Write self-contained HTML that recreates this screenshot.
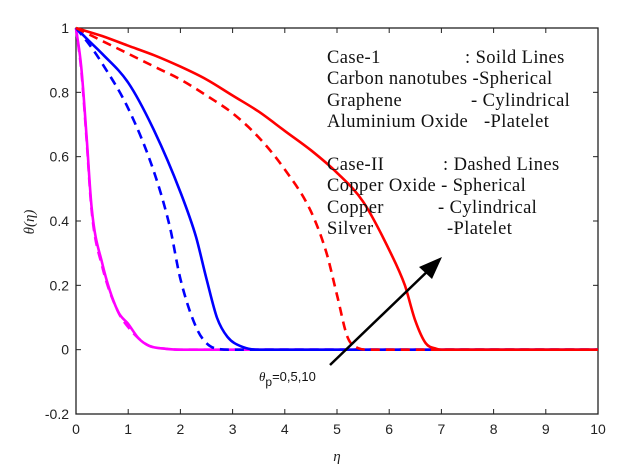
<!DOCTYPE html>
<html><head><meta charset="utf-8"><style>
body{margin:0;background:#fff}
svg{display:block;font-family:"Liberation Sans",sans-serif}
.leg{font-family:"Liberation Serif",serif;font-size:18.5px;letter-spacing:0.4px;fill:#111}
</style></head><body>
<svg id="chart" width="630" height="471" viewBox="0 0 630 471">
<rect width="630" height="471" fill="#fff"/>
<g id="axes"></g>
<g id="series"></g>
<g class="leg">
<text x="327" y="63">Case-1</text><text x="465" y="63">: Soild Lines</text>
<text x="327" y="84">Carbon nanotubes -Spherical</text>
<text x="327" y="106">Graphene</text><text x="471" y="106">- Cylindrical</text>
<text x="327" y="127">Aluminium Oxide</text><text x="484" y="127">-Platelet</text>
<text x="327" y="170">Case-II</text><text x="443" y="170">:  Dashed Lines</text>
<text x="327" y="191">Copper Oxide -  Spherical</text>
<text x="327" y="213">Copper</text><text x="438" y="213">- Cylindrical</text>
<text x="327" y="234">Silver</text><text x="447" y="234">-Platelet</text>
</g>
<g>
<line x1="330" y1="365" x2="433" y2="266" stroke="#000" stroke-width="2.5"/>
<polygon points="442,257 419,267 432,279" fill="#000"/>
</g>
<text x="259" y="381" font-size="13" fill="#111"><tspan font-family="Liberation Serif" font-style="italic">θ</tspan><tspan dy="5" font-size="12">p</tspan><tspan dy="-5">=0,5,10</tspan></text>
<text transform="translate(34,222) rotate(-90)" text-anchor="middle" font-family="Liberation Serif" font-style="italic" font-size="15" fill="#222">θ(η)</text>
<text x="337" y="461" text-anchor="middle" font-family="Liberation Serif" font-style="italic" font-size="15" fill="#222">η</text>
</svg>
<script>
const xTicks=[0,1,2,3,4,5,6,7,8,9,10];
const yTicks=[-0.2,0,0.2,0.4,0.6,0.8,1];
const yTickLabels=["-0.2","0","0.2","0.4","0.6","0.8","1"];
const redSolidX=[0,0.5,1,1.5,2,2.5,3,3.5,4,4.5,5,5.5,6,6.3,6.5,6.7,6.9,7,10];
const redSolidY=[1,0.975,0.945,0.915,0.88,0.84,0.79,0.74,0.68,0.62,0.55,0.46,0.31,0.2,0.09,0.02,0.003,0,0];
const redDashX=[0,0.5,1,1.5,2,2.5,3,3.5,4,4.5,4.8,5,5.2,5.4,5.6,10];
const redDashY=[1,0.96,0.92,0.88,0.84,0.79,0.735,0.66,0.56,0.43,0.3,0.17,0.04,0.005,0,0];
const blueSolidX=[0,0.25,0.5,1,1.5,2,2.3,2.5,2.7,2.9,3.2,3.5,10];
const blueSolidY=[1,0.96,0.92,0.83,0.68,0.49,0.35,0.22,0.1,0.04,0.008,0,0];
const blueDashX=[0,0.25,0.5,1,1.5,1.8,2,2.3,2.5,2.7,3,10];
const blueDashY=[1,0.95,0.89,0.75,0.55,0.38,0.22,0.07,0.02,0.003,0,0];
const magSolidX=[0,0.1,0.2,0.3,0.5,0.8,1,1.2,1.4,1.7,2,10];
const magSolidY=[1,0.88,0.67,0.44,0.27,0.12,0.08,0.035,0.012,0.003,0,0];
const magDashX=[0,0.1,0.2,0.3,0.5,0.8,1,1.2,1.4,1.7,2,10];
const magDashY=[1,0.87,0.66,0.43,0.26,0.12,0.07,0.035,0.012,0.003,0,0];

const X0=76,X1=598,Y0=414,Y1=28,xmin=0,xmax=10,ymin=-0.2,ymax=1;
const sx=v=>X0+(v-xmin)/(xmax-xmin)*(X1-X0);
const sy=v=>Y0-(v-ymin)/(ymax-ymin)*(Y0-Y1);
const NS="http://www.w3.org/2000/svg";
function mk(tag,attrs,parent){const e=document.createElementNS(NS,tag);for(const k in attrs)e.setAttribute(k,attrs[k]);parent.appendChild(e);return e;}
const ax=document.getElementById('axes');
const frame=mk('rect',{x:X0,y:Y1,width:X1-X0,height:Y0-Y1,fill:'none',stroke:'#222','stroke-width':1.3},ax);


xTicks.forEach(t=>{
  const x=sx(t);
  mk('line',{x1:x,y1:Y0,x2:x,y2:Y0-5,stroke:'#222'},ax);
  mk('line',{x1:x,y1:Y1,x2:x,y2:Y1+5,stroke:'#222'},ax);
  const tx=mk('text',{x:x,y:Y0+20,'text-anchor':'middle','font-size':14,fill:'#222'},ax);
  tx.textContent=t;
  
  
});
yTicks.forEach((t,i)=>{
  const y=sy(t);
  mk('line',{x1:X0,y1:y,x2:X0+5,y2:y,stroke:'#222'},ax);
  mk('line',{x1:X1,y1:y,x2:X1-5,y2:y,stroke:'#222'},ax);
  const tx=mk('text',{x:X0-7,y:y+5,'text-anchor':'end','font-size':14,fill:'#222'},ax);
  tx.textContent=yTickLabels[i];
  
  
});
const sg=document.getElementById('series');
// monotone cubic (Fritsch-Carlson) interpolation in data space
function monotonePath(xs,ys){
  const n=xs.length,d=[],m=new Array(n);
  for(let i=0;i<n-1;i++)d.push((ys[i+1]-ys[i])/(xs[i+1]-xs[i]));
  m[0]=d[0];m[n-1]=d[n-2];
  for(let i=1;i<n-1;i++)m[i]=(d[i-1]*d[i]<=0)?0:(d[i-1]+d[i])/2;
  for(let i=0;i<n-1;i++){
    if(d[i]===0){m[i]=0;m[i+1]=0;continue;}
    const a=m[i]/d[i],b=m[i+1]/d[i],s=a*a+b*b;
    if(s>9){const t=3/Math.sqrt(s);m[i]=t*a*d[i];m[i+1]=t*b*d[i];}
  }
  let path='M'+sx(xs[0]).toFixed(1)+','+sy(ys[0]).toFixed(1);
  for(let i=0;i<n-1;i++){
    const h=xs[i+1]-xs[i];
    path+='C'+sx(xs[i]+h/3).toFixed(1)+','+sy(ys[i]+m[i]*h/3).toFixed(1)+' '+
      sx(xs[i+1]-h/3).toFixed(1)+','+sy(ys[i+1]-m[i+1]*h/3).toFixed(1)+' '+
      sx(xs[i+1]).toFixed(1)+','+sy(ys[i+1]).toFixed(1);
  }
  return path;
}
function line(xs,ys,color,dash,name){
  const p=mk('path',{d:monotonePath(xs,ys),fill:'none',stroke:color,'stroke-width':2.6,'stroke-linejoin':'round'},sg);
  if(dash)p.setAttribute('stroke-dasharray','9,6');
  
  
}
line(magSolidX,magSolidY,'#ff00ff',false,'magenta-solid-line');
line(magDashX,magDashY,'#ff00ff',true,'magenta-dashed-line');
line(blueSolidX,blueSolidY,'#0000ff',false,'blue-solid-line');
line(blueDashX,blueDashY,'#0000ff',true,'blue-dashed-line');
line(redSolidX,redSolidY,'#ff0000',false,'red-solid-line');
line(redDashX,redDashY,'#ff0000',true,'red-dashed-line');
</script>
</body></html>
